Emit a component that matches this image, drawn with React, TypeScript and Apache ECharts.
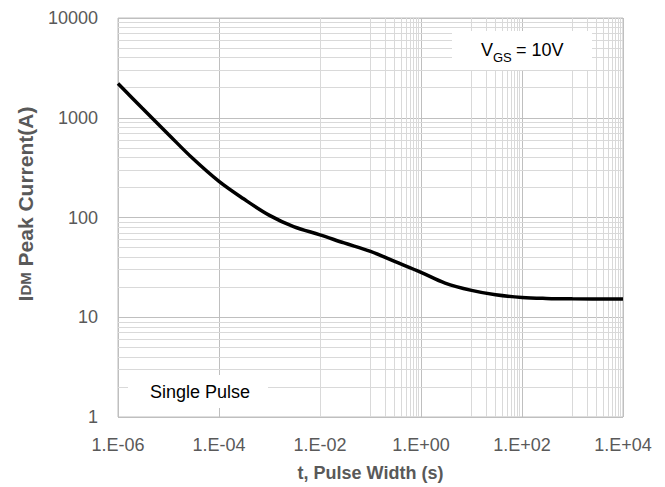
import React, { useEffect, useRef } from "react";
import * as echarts from "echarts";

// Pulse width (s) and peak drain current (A)
const pulseWidth = [1e-6, 3e-6, 1e-5, 3e-5, 1e-4, 3e-4, 1e-3, 3e-3, 1e-2, 3e-2, 1e-1, 3e-1, 1, 3, 10, 30, 100, 300, 1000, 10000];
const peakCurrent = [2200, 1250, 680, 392, 230, 155, 105, 81, 67, 55.6, 45.7, 36.3, 28.2, 22, 18.6, 16.8, 15.8, 15.45, 15.3, 15.2];

const xTickExponents = [-6, -4, -2, 0, 2, 4];
const yTickLabels = ["1", "10", "100", "1000", "10000"];

const FONT = "'Liberation Sans', Arial, sans-serif";

// Minor gridline positions (Excel-style log grid)
const minorX: number[] = [];
for (let i = 0; i < xTickExponents.length - 1; i++) {
  const n = xTickExponents[i];
  for (let k = 1; k <= 9; k++) minorX.push(k * Math.pow(10, n + 1));
}
const minorY: number[] = [];
for (let m = 0; m < yTickLabels.length - 1; m++) {
  for (let k = 2; k <= 9; k++) minorY.push(k * Math.pow(10, m));
}

export default function App() {
  const ref = useRef<HTMLDivElement>(null);
  useEffect(() => {
    if (!ref.current) return;
    const chart = echarts.init(ref.current, undefined, { renderer: "svg" });
    const data = pulseWidth.map((t, i) => [t, peakCurrent[i]]);
    chart.setOption({
      animation: false,
      backgroundColor: "#ffffff",
      grid: { left: 118, right: 42, top: 18, bottom: 68, show: true, borderColor: "#bfbfbf", borderWidth: 1 },
      xAxis: {
        type: "log",
        logBase: 10,
        min: 1e-6,
        max: 1e4,
        interval: 2,
        axisLine: { show: false },
        axisTick: { show: false },
        splitLine: { show: true, lineStyle: { color: "#bfbfbf", width: 1 } },
        axisLabel: {
          color: "#595959",
          fontFamily: FONT,
          fontSize: 18,
          margin: 19,
          formatter: (v: number) => {
            const e = Math.round(Math.log10(v));
            return "1.E" + (e < 0 ? "-" : "+") + String(Math.abs(e)).padStart(2, "0");
          },
        },
        name: "t, Pulse Width (s)",
        nameLocation: "middle",
        nameGap: 47,
        nameTextStyle: { color: "#595959", fontFamily: FONT, fontSize: 18, fontWeight: "bold" },
      },
      yAxis: {
        type: "log",
        logBase: 10,
        min: 1,
        max: 10000,
        interval: 1,
        axisLine: { show: false },
        axisTick: { show: false },
        splitLine: { show: true, lineStyle: { color: "#bfbfbf", width: 1 } },
        axisLabel: {
          color: "#595959",
          fontFamily: FONT,
          fontSize: 18,
          margin: 20,
          formatter: (v: number) => yTickLabels[Math.round(Math.log10(v))] ?? String(v),
        },
      },
      graphic: [
        {
          type: "text",
          x: 25,
          y: 204,
          rotation: Math.PI / 2,
          z: 100,
          style: {
            text: "{a|I}{b|DM}{a| Peak Current(A)}",
            align: "center",
            verticalAlign: "middle",
            rich: {
              a: { fontFamily: FONT, fontSize: 21, fontWeight: "bold", fill: "#595959" },
              b: { fontFamily: FONT, fontSize: 15, fontWeight: "bold", fill: "#595959" },
            },
          },
        },
        { type: "rect", z: 100, shape: { x: 452, y: 31, width: 140, height: 39 }, style: { fill: "#ffffff" } },
        {
          type: "text",
          z: 101,
          x: 481,
          y: 50,
          style: { text: "V", fontFamily: FONT, fontSize: 18, fill: "#000000", verticalAlign: "middle", align: "left" },
        },
        {
          type: "text",
          z: 101,
          x: 493,
          y: 57,
          style: { text: "GS", fontFamily: FONT, fontSize: 13, fill: "#000000", verticalAlign: "middle", align: "left" },
        },
        {
          type: "text",
          z: 101,
          x: 511,
          y: 50,
          style: { text: " = 10V", fontFamily: FONT, fontSize: 18, fill: "#000000", verticalAlign: "middle", align: "left" },
        },
        { type: "rect", z: 100, shape: { x: 128, y: 375, width: 140, height: 33 }, style: { fill: "#ffffff" } },
        {
          type: "text",
          z: 101,
          x: 150,
          y: 392,
          style: { text: "Single Pulse", fontFamily: FONT, fontSize: 18, fill: "#000000", verticalAlign: "middle", align: "left" },
        },
      ],
      series: [
        {
          type: "line",
          data: [],
          silent: true,
          z: 1,
          markLine: {
            silent: true,
            symbol: "none",
            animation: false,
            label: { show: false },
            lineStyle: { color: "#d9d9d9", width: 1, type: "solid" },
            emphasis: { disabled: true },
            data: [...minorX.map((v) => ({ xAxis: v })), ...minorY.map((v) => ({ yAxis: v }))],
          },
        },
        {
          type: "line",
          data,
          z: 5,
          smooth: 0.35,
          showSymbol: false,
          symbol: "none",
          lineStyle: { color: "#000000", width: 3.5 },
        },
      ],
    });
    return () => chart.dispose();
  }, []);
  return <div ref={ref} style={{ position: "fixed", left: 0, top: 0, width: 665, height: 487 }} />;
}
